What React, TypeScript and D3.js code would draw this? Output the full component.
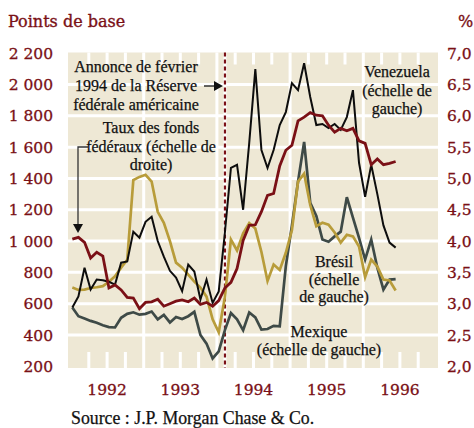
import React from 'react';
import * as d3 from 'd3';

// monthly values, Jan 1992 -> Jun 1996
const fedFunds = [
  4.03, 4.06, 3.98, 3.73, 3.82, 3.76, 3.25, 3.3, 3.22, 3.1, 3.09, 2.92,
  3.02, 3.03, 3.07, 2.96, 3.0, 3.04, 3.06, 3.03, 3.09, 2.99, 3.02, 2.96,
  3.05, 3.25, 3.34, 3.56, 4.01, 4.25, 4.26, 4.47, 4.73, 4.76, 5.2, 5.45,
  5.53, 5.92, 5.98, 6.05, 6.01, 6.0, 5.85, 5.74, 5.8, 5.76, 5.8, 5.6,
  5.56, 5.22, 5.31, 5.22, 5.24, 5.27,
];
const venezuela = [
  575, 646, 830, 690, 754, 750, 740, 722, 862, 870, 1060, 1022,
  1123, 1155, 1000, 900, 810, 767, 680, 850, 805, 627, 754, 605,
  678, 1050, 1467, 1487, 1200, 1627, 2098, 1582, 1467, 1582, 1741, 1824,
  2009, 1964, 2136, 1920, 1741, 1748, 1722, 1748, 1710, 1792, 1964, 1500,
  1283, 1487, 1300, 1100, 990, 958,
];
const bresil = [
  703, 688, 690, 700, 705, 712, 740, 775, 830, 880, 1390, 1410,
  1423, 1380, 1187, 1117, 1000, 862, 830, 786, 741, 703, 645, 500,
  417, 640, 1009, 940, 1050, 1115, 1080, 930, 745, 850, 815, 925,
  1070, 1380, 1430, 1230, 1095, 1117, 1105, 1055, 990, 1040, 1030, 965,
  770, 882, 837, 754, 748, 684,
];
const mexique = [
  575, 520, 505, 490, 478, 462, 450, 448, 510, 535, 545, 530,
  535, 550, 500, 528, 480, 515, 502, 520, 548, 400, 345, 250,
  295, 430, 540, 500, 430, 544, 512, 435, 438, 458, 455, 840,
  1100, 1380, 1633, 1245, 1160, 1010, 996, 1030, 1060, 1280, 1150, 1020,
  882, 1010, 830, 690, 754, 757,
];

const years = [1992, 1993, 1994, 1995, 1996];
const leftTicks = [200, 400, 600, 800, 1000, 1200, 1400, 1600, 1800, 2000, 2200];
const rightTicks = [2.0, 2.5, 3.0, 3.5, 4.0, 4.5, 5.0, 5.5, 6.0, 6.5, 7.0];
const annonceDate = 1994.11;

const W = 474;
const H = 428;
const plotL = 68;
const plotR = 438;
const plotT = 52.5;
const plotB = 368;

const red = '#7a1016';
const numFont = '"DejaVu Serif", serif';
const txtFont = '"Liberation Serif", serif';

const x = d3.scaleLinear().domain([1992, 1997]).range([70.5, 436.5]);
const yL = d3.scaleLinear().domain([200, 2200]).range([366.3, 53.2]);
const yR = d3.scaleLinear().domain([2, 7]).range([366.3, 53.2]);

const monthT = (i: number) => 1992 + (i + 0.3) / 12;

const lineL = d3.line<number>().x((_, i) => x(monthT(i))).y((v) => yL(v));
const lineR = d3.line<number>().x((_, i) => x(monthT(i))).y((v) => yR(v));

const fmtLeft = (v: number) => d3.format(',')(v).replace(',', ' ');
const fmtRight = (v: number) => v.toFixed(1).replace('.', ',');

const quarters = d3.range(1992.25, 1997, 0.25).filter((q) => q % 1 !== 0);

const Label = ({ lines, cx, y0, step = 18.5 }: { lines: string[]; cx: number; y0: number; step?: number }) => (
  <text x={cx} y={y0} textAnchor="middle" fontFamily={txtFont} fontSize={16} fill="#111" stroke="#111" strokeWidth={0.25}>
    {lines.map((l, i) => (
      <tspan key={i} x={cx} y={y0 + i * step}>{l}</tspan>
    ))}
  </text>
);

export default function App() {
  return (
    <svg width={W} height={H} style={{ position: 'absolute', left: 0, top: 0, background: '#fff' }}>
      <text x={8} y={27} fontFamily={numFont} fontSize={16} fill={red} stroke={red} strokeWidth={0.35}>Points de base</text>
      <text x={458} y={27} fontFamily={numFont} fontSize={16} fill={red} stroke={red} strokeWidth={0.35}>%</text>

      <rect x={plotL} y={plotT} width={plotR - plotL} height={plotB - plotT} fill="#eee8d5" />

      {leftTicks.slice(1, -1).map((v) => (
        <line key={v} x1={plotL} x2={plotR} y1={yL(v)} y2={yL(v)} stroke="#fff" strokeWidth={3} />
      ))}
      {years.slice(1).map((yr) => (
        <line key={yr} x1={x(yr)} x2={x(yr)} y1={plotT} y2={plotB} stroke="#fff" strokeWidth={3} />
      ))}
      {quarters.map((q) => (
        <g key={q}>
          <line x1={x(q)} x2={x(q)} y1={plotT} y2={plotT + 12} stroke="#fff" strokeWidth={3} />
          <line x1={x(q)} x2={x(q)} y1={plotB - 16} y2={plotB} stroke="#fff" strokeWidth={3} />
        </g>
      ))}

      <line x1={x(annonceDate)} x2={x(annonceDate)} y1={plotT} y2={plotB} stroke="#fff" strokeWidth={3} />
      <line x1={x(annonceDate)} x2={x(annonceDate)} y1={plotT} y2={plotB} stroke={red} strokeWidth={2.2} strokeDasharray="4 3" />

      <g fill="none" strokeLinejoin="miter">
        <path d={lineL(mexique) ?? ''} stroke="#3e4a47" strokeWidth={2.7} />
        <path d={lineL(bresil) ?? ''} stroke="#b89c3a" strokeWidth={2.7} />
        <path d={lineL(venezuela) ?? ''} stroke="#0d0d0d" strokeWidth={2} />
        <path d={lineR(fedFunds) ?? ''} stroke={red} strokeWidth={2.8} />
      </g>

      {leftTicks.map((v) => (
        <text key={v} x={53} y={yL(v)} dy="0.36em" textAnchor="end" fontFamily={numFont} fontSize={15.5} fill={red} stroke={red} strokeWidth={0.3}>
          {fmtLeft(v)}
        </text>
      ))}
      {rightTicks.map((v) => (
        <text key={v} x={447} y={yR(v)} dy="0.36em" fontFamily={numFont} fontSize={15.5} fill={red} stroke={red} strokeWidth={0.3}>
          {fmtRight(v)}
        </text>
      ))}
      {years.map((yr) => (
        <text key={yr} x={x(yr + 0.5)} y={395} textAnchor="middle" fontFamily={numFont} fontSize={15.5} fill={red} stroke={red} strokeWidth={0.3}>
          {yr}
        </text>
      ))}

      <Label lines={['Annonce de février', '1994 de la Réserve', 'fédérale américaine']} cx={136} y0={72} step={19} />
      <line x1={204} x2={214} y1={86} y2={86} stroke="#111" strokeWidth={1.3} />
      <path d={`M${x(annonceDate) - 2},86 L214,81 L214,91 Z`} fill="#111" />

      <Label lines={['Taux des fonds', 'fédéraux (échelle de', 'droite)']} cx={151} y0={133} />
      <path d="M88,147 H78 V226" fill="none" stroke="#333" strokeWidth={1.3} />
      <path d="M73,224 L83,224 L78,233 Z" fill="#111" />

      <Label lines={['Venezuela', '(échelle de', 'gauche)']} cx={397} y0={77} />
      <Label lines={['Brésil', '(échelle', 'de gauche)']} cx={334} y0={267} step={17.5} />
      <Label lines={['Mexique', '(échelle de gauche)']} cx={319} y0={337} step={17.5} />

      <text x={71} y={424} fontFamily={txtFont} fontSize={17.8} fill="#111" stroke="#111" strokeWidth={0.25}>
        Source : J.P. Morgan Chase &amp; Co.
      </text>
    </svg>
  );
}
